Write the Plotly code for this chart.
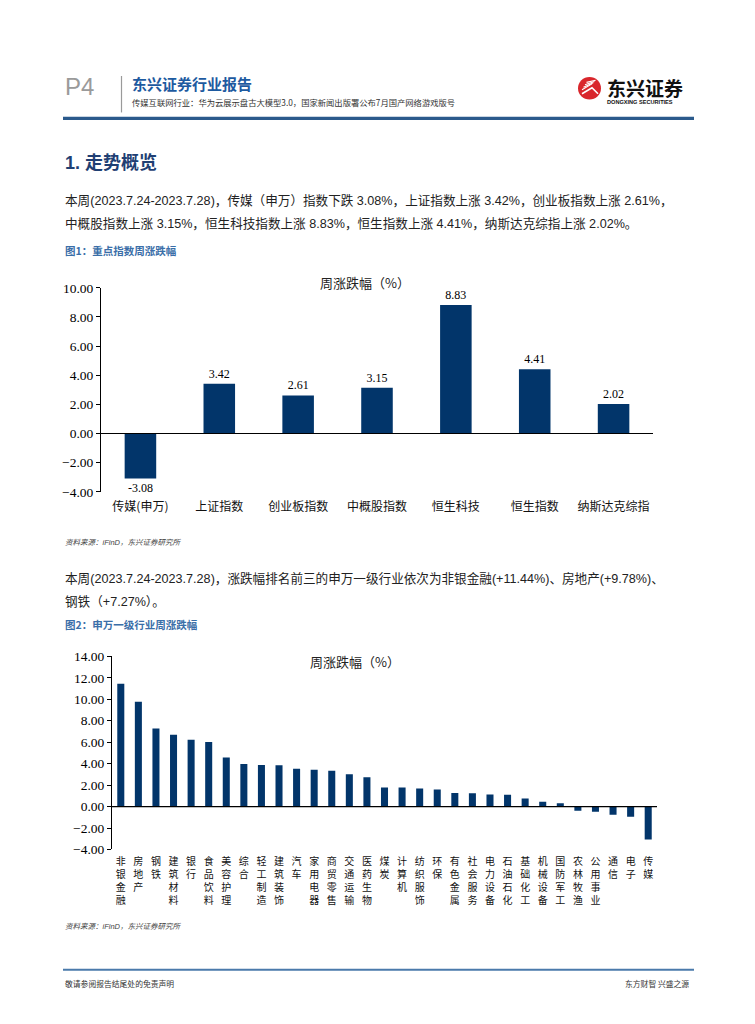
import plotly.graph_objects as go

W, H = 755, 1024

# ---------------- data ----------------
idx_names = ["传媒(申万)", "上证指数", "创业板指数", "中概股指数", "恒生科技", "恒生指数", "纳斯达克综指"]
idx_values = [-3.08, 3.42, 2.61, 3.15, 8.83, 4.41, 2.02]

ind_names = ["非银金融", "房地产", "钢铁", "建筑材料", "银行", "食品饮料", "美容护理", "综合",
             "轻工制造", "建筑装饰", "汽车", "家用电器", "商贸零售", "交通运输", "医药生物", "煤炭",
             "计算机", "纺织服饰", "环保", "有色金属", "社会服务", "电力设备", "石油石化", "基础化工",
             "机械设备", "国防军工", "农林牧渔", "公用事业", "通信", "电子", "传媒"]
ind_values = [11.44, 9.78, 7.27, 6.69, 6.23, 6.01, 4.57, 3.96, 3.87, 3.86, 3.53, 3.44, 3.34, 3.01,
              2.73, 1.78, 1.77, 1.69, 1.60, 1.26, 1.24, 1.13, 1.11, 0.74, 0.46, 0.31, -0.40, -0.49,
              -0.77, -0.95, -3.08]

chart1_ticks = [-4, -2, 0, 2, 4, 6, 8, 10]
chart2_ticks = [-4, -2, 0, 2, 4, 6, 8, 10, 12, 14]

BAR = "#02356a"
CJK = "Noto Sans CJK SC"
BODY = "Liberation Sans, Noto Sans CJK SC"
SERIF = "Liberation Serif, Noto Sans CJK SC"


def px(x):
    return x / W


def py(y):
    return 1 - y / H


fig = go.Figure()

fig.add_trace(go.Bar(
    x=idx_names, y=idx_values, marker=dict(color=BAR, line=dict(width=0)),
    text=[f"{v:.2f}" for v in idx_values], textposition="outside",
    textfont=dict(family=SERIF, size=12, color="#000"), cliponaxis=False,
    xaxis="x", yaxis="y", showlegend=False, hoverinfo="skip",
))

fig.add_trace(go.Bar(
    x=ind_names, y=ind_values, marker=dict(color=BAR, line=dict(width=0)),
    xaxis="x2", yaxis="y2", showlegend=False, hoverinfo="skip",
))

axis_common = dict(showgrid=False, zeroline=False, fixedrange=True)

fig.update_layout(
    width=W, height=H, margin=dict(l=0, r=0, t=0, b=0),
    paper_bgcolor="white", plot_bgcolor="rgba(0,0,0,0)",
    bargap=0.6,
    xaxis=dict(domain=[px(101), px(653)], showline=False, ticks="", tickangle=0,
               tickfont=dict(family=CJK, size=12, color="#111"), ticklabelstandoff=6,
               anchor="y", **axis_common),
    yaxis=dict(domain=[py(492), py(285)], range=[-4, 10], tickvals=chart1_ticks,
               tickformat=".2f", showline=True, linecolor="#000", linewidth=1,
               ticks="outside", ticklen=4, tickcolor="#000",
               tickfont=dict(family=SERIF, size=13.5, color="#000"),
               anchor="x", **axis_common),
    xaxis2=dict(domain=[px(112), px(657)], showline=False, ticks="", tickangle=0,
                tickvals=ind_names, ticktext=["<br>".join(list(n)) for n in ind_names],
                tickfont=dict(family=CJK, size=10, color="#111"), ticklabelstandoff=5,
                anchor="y2", **axis_common),
    yaxis2=dict(domain=[py(855), py(659)], range=[-4, 14], tickvals=chart2_ticks,
                tickformat=".2f", showline=True, linecolor="#000", linewidth=1,
                ticks="outside", ticklen=4, tickcolor="#000",
                tickfont=dict(family=SERIF, size=13.5, color="#000"),
                anchor="x2", **axis_common),
)

shapes = []
annotations = []


def line(x0, y0, x1, y1, color, width):
    shapes.append(dict(type="line", xref="paper", yref="paper",
                       x0=px(x0), y0=py(y0), x1=px(x1), y1=py(y1),
                       line=dict(color=color, width=width)))


def text(x, y, s, size, color="#222", family=BODY, anchor="left", bold=False):
    if bold:
        s = "<b>" + s + "</b>"
    annotations.append(dict(xref="paper", yref="paper", x=px(x), y=py(y), text=s,
                            showarrow=False, xanchor=anchor, yanchor="middle",
                            font=dict(size=size, color=color, family=family)))


# zero lines across plot areas
shapes.append(dict(type="line", xref="x domain", yref="y", x0=0, x1=1, y0=0, y1=0,
                   line=dict(color="#000", width=1.2)))
shapes.append(dict(type="line", xref="x2 domain", yref="y2", x0=0, x1=1, y0=0, y1=0,
                   line=dict(color="#000", width=1.2)))

# ---------------- header ----------------
text(63, 81, "P4", 24, color="#9a9a9a", family="Liberation Sans")
line(121.5, 70, 121.5, 107, "#9a9a9a", 1.2)
text(130, 78, "东兴证券行业报告", 15, color="#1d5aa0", family=CJK, bold=True)
text(130, 96, "传媒互联网行业：华为云展示盘古大模型3.0，国家新闻出版署公布7月国产网络游戏版号", 8.3,
     color="#333", family=CJK)
line(63, 113, 694, 113, "#2b5a8c", 3.2)

# logo
shapes.append(dict(type="circle", xref="paper", yref="paper",
                   x0=px(578), x1=px(601), y0=py(94), y1=py(71),
                   fillcolor="#d9262c", line=dict(width=0)))
for k in range(4):
    shapes.append(dict(type="line", xref="paper", yref="paper",
                       x0=px(582 + 1.5 * k), y0=py(84 - 2.5 * k),
                       x1=px(592 + 1.2 * k), y1=py(78 - 1.2 * k),
                       line=dict(color="white", width=1.1)))
shapes.append(dict(type="path", xref="paper", yref="paper",
                   path=f"M {px(582)},{py(88)} L {px(592)},{py(82)} L {px(598)},{py(88)}",
                   line=dict(color="white", width=1.6)))
text(605, 82, "东兴证券", 19, color="#111", family=CJK, bold=True)
text(605, 96, "DONGXING SECURITIES", 5.6, color="#111", family="Liberation Sans", bold=True)

# ---------------- section 1 ----------------
text(63, 158, "1. 走势概览", 18, color="#1f3f73", family=BODY, bold=True)
text(63, 196, "本周(2023.7.24-2023.7.28)，传媒（申万）指数下跌 3.08%，上证指数上涨 3.42%，创业板指数上涨 2.61%，",
     12.6)
text(63, 220, "中概股指数上涨 3.15%，恒生科技指数上涨 8.83%，恒生指数上涨 4.41%，纳斯达克综指上涨 2.02%。", 12.6)
text(63, 247, "图1：重点指数周涨跌幅", 10.5, color="#3a6ea8", family=CJK, bold=True)
text(365, 280, "周涨跌幅（%）", 13, color="#222", family=CJK, anchor="center")
text(63, 543, "<i>资料来源：iFinD，东兴证券研究所</i>", 7.5, color="#444", family=BODY)

# ---------------- section 2 ----------------
text(63, 580, "本周(2023.7.24-2023.7.28)，涨跌幅排名前三的申万一级行业依次为非银金融(+11.44%)、房地产(+9.78%)、",
     12.6)
text(63, 604, "钢铁（+7.27%）。", 12.6)
text(63, 627, "图2：申万一级行业周涨跌幅", 10.5, color="#3a6ea8", family=CJK, bold=True)
text(355, 664, "周涨跌幅（%）", 13, color="#222", family=CJK, anchor="center")
text(63, 933, "<i>资料来源：iFinD，东兴证券研究所</i>", 7.5, color="#444", family=BODY)

# ---------------- footer ----------------
line(63, 977, 694, 977, "#4a7aab", 2)
text(63, 991, "敬请参阅报告结尾处的免责声明", 7.8, color="#333", family=CJK)
text(691, 991, "东方财智 兴盛之源", 7.8, color="#333", family=CJK, anchor="right")

fig.update_layout(shapes=shapes, annotations=annotations)

fig.write_html("out.html",
               config={"displayModeBar": False, "staticPlot": True},
               post_script="document.body.style.margin='0';document.body.style.overflow='hidden';")
